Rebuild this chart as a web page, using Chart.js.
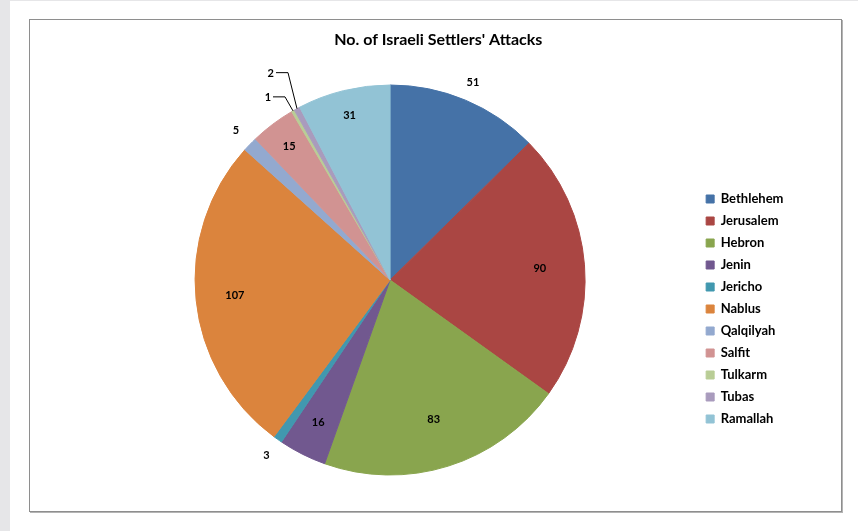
<!DOCTYPE html>
<html>
<head>
<meta charset="utf-8">
<script src="https://cdn.jsdelivr.net/npm/chart.js"></script>
<style>
  html, body { margin: 0; padding: 0; }
  body { width: 858px; height: 531px; background: #e6e6e8; position: relative; overflow: hidden; }
  #page { position: absolute; left: 10px; top: 1px; right: 0; bottom: 0; background: #fff; }
  #frame { position: absolute; left: 29px; top: 19px; width: 811px; height: 491px;
           border: 1px solid #8e8e8e; box-shadow: 1px 1px 0 #b4b4b4; background: #fff; }
  #chart { position: absolute; left: 0; top: 0; }
</style>
</head>
<body>
<div id="page"></div>
<div id="frame"></div>
<canvas id="chart" width="858" height="531"></canvas>
<script>
    "use strict";

    const categories = ["Bethlehem", "Jerusalem", "Hebron", "Jenin", "Jericho", "Nablus",
        "Qalqilyah", "Salfit", "Tulkarm", "Tubas", "Ramallah"];
    const attacks = [51, 90, 83, 16, 3, 107, 5, 15, 1, 2, 31];
    const sliceColors = ["#4572A7", "#AA4643", "#89A54E", "#71588F", "#4198AF", "#DB843D",
        "#93A9CF", "#D19392", "#B9CD96", "#A99BBD", "#92C3D5"];

    // label placement per slice: radius factor, or a leader line offset
    const labelRadius = [1.1, 0.77, 0.75, 0.82, 1.1, 0.8, 1.1, 0.86, null, null, 0.87];
    const leaderOffset = [null, null, null, null, null, null, null, null, [-8, -14], [-9, -36], null];

    const FONT = "Lato, 'Open Sans', sans-serif";

    const pieLabels = {
        id: "pieLabels",
        afterDatasetsDraw(chart) {
            const ctx = chart.ctx;
            const meta = chart.getDatasetMeta(0);
            ctx.save();
            ctx.font = "bold 11px " + FONT;
            ctx.fillStyle = "#000";
            ctx.strokeStyle = "#000";
            ctx.lineWidth = 1;
            ctx.textBaseline = "middle";
            meta.data.forEach((arc, i) => {
                const p = arc.getProps(["x", "y", "startAngle", "endAngle", "outerRadius"], true);
                const mid = (p.startAngle + p.endAngle) / 2;
                const text = String(attacks[i]);
                if (leaderOffset[i]) {
                    const ex = p.x + Math.cos(mid) * p.outerRadius;
                    const ey = p.y + Math.sin(mid) * p.outerRadius;
                    const bx = ex + leaderOffset[i][0];
                    const by = ey + leaderOffset[i][1];
                    ctx.beginPath();
                    ctx.moveTo(ex, ey);
                    ctx.lineTo(bx, by);
                    ctx.lineTo(bx - 12, by);
                    ctx.stroke();
                    ctx.textAlign = "right";
                    ctx.fillText(text, bx - 14, by + 1);
                } else {
                    const r = p.outerRadius * labelRadius[i];
                    ctx.textAlign = "center";
                    ctx.fillText(text, p.x + Math.cos(mid) * r, p.y + Math.sin(mid) * r);
                }
            });
            ctx.restore();
        }
    };

    new Chart(document.getElementById("chart"), {
        type: "pie",
        data: {
            labels: categories,
            datasets: [{
                data: attacks,
                backgroundColor: sliceColors,
                borderColor: sliceColors,
                borderWidth: 1,
                radius: 195
            }]
        },
        options: {
            responsive: false,
            animation: false,
            events: [],
            layout: { padding: { left: 83, right: 64.5, top: 0, bottom: 51 } },
            plugins: {
                title: {
                    display: true,
                    text: "No. of Israeli Settlers' Attacks",
                    color: "#000",
                    font: { family: FONT, size: 16, weight: "bold", lineHeight: 1.2 },
                    padding: { top: 30.4, bottom: 30.4 }
                },
                legend: {
                    position: "right",
                    align: "start",
                    fullSize: false,
                    title: {
                        display: true,
                        text: " ",
                        font: { size: 10, lineHeight: 1.2 },
                        padding: { top: 91.5, bottom: 0 }
                    },
                    labels: {
                        boxWidth: 8,
                        boxHeight: 8,
                        padding: 9,
                        color: "#000",
                        font: { family: FONT, size: 13, weight: "bold" }
                    }
                },
                tooltip: { enabled: false }
            }
        },
        plugins: [pieLabels]
    });
</script>
</body>
</html>
